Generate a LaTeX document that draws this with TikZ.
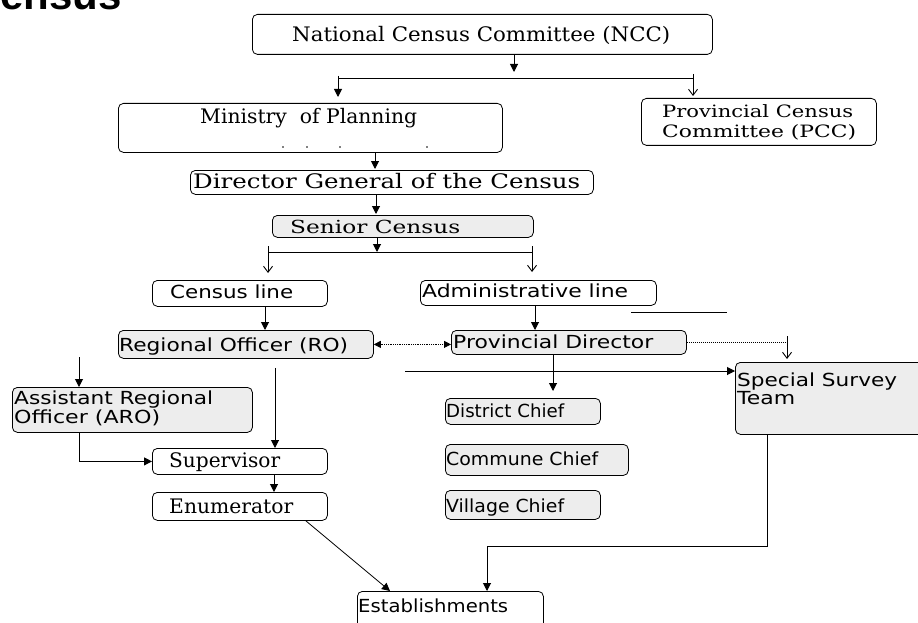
\documentclass[tikz,border=0pt]{standalone}
\usepackage{fontspec}
\usepackage{graphicx}
\setmainfont{DejaVu Serif}
\newfontfamily\sansf{DejaVu Sans}
\newfontfamily\titlef{Liberation Sans}
\usetikzlibrary{arrows.meta,calc}
\tikzset{
  box/.style={draw, rounded corners=5pt, line width=0.8pt, inner sep=0pt, anchor=north west},
  shd/.style={fill=black!7},
  arr/.style={line width=1pt, -{Triangle[length=8pt,width=8pt]}},
  darr/.style={line width=0.8pt, densely dotted, {Triangle[length=7pt,width=7pt]}-{Triangle[length=7pt,width=7pt]}},
  oarr/.style={line width=0.9pt, -{Straight Barb[length=6pt,width=9pt]}},
  ln/.style={line width=1pt},
  txt/.style={anchor=base west, inner sep=0pt},
  serif/.style={font=\fontsize{20}{22}\selectfont},
  sans/.style={font=\sansf\fontsize{18}{20}\selectfont}
}
\newcommand{\fw}[2]{\resizebox{#1pt}{\height}{#2}}
\begin{document}
\begin{tikzpicture}[x=1pt,y=-1pt]
\useasboundingbox (0,0) rectangle (918,623);
\begin{scope}
\clip (0,0) rectangle (918,623);
\node[txt, font=\titlef\bfseries\fontsize{42}{42}\selectfont] (title) at (-30,10) {Census};

% boxes
\node[box, minimum width=460pt, minimum height=40pt] (ncc) at (252,14) {};
\node[box, minimum width=384pt, minimum height=49pt] (min) at (118,103) {};
\node[box, minimum width=235pt, minimum height=47pt] (pcc) at (641,98) {};
\node[box, minimum width=403pt, minimum height=24pt] (dg) at (190,170) {};
\node[box, shd, minimum width=261pt, minimum height=22pt] (sc) at (272,215) {};
\node[box, minimum width=175pt, minimum height=26pt] (cl) at (152,280) {};
\node[box, minimum width=236pt, minimum height=25pt] (al) at (420,280) {};
\node[box, shd, minimum width=255pt, minimum height=28pt] (ro) at (118,330) {};
\node[box, shd, minimum width=235pt, minimum height=24pt] (pd) at (451,330) {};
\node[box, shd, minimum width=200pt, minimum height=72pt] (sst) at (735,362) {};
\node[box, shd, minimum width=240pt, minimum height=45pt] (aro) at (12,387) {};
\node[box, minimum width=175pt, minimum height=26pt] (sup) at (152,448) {};
\node[box, minimum width=175pt, minimum height=28pt] (enu) at (152,492) {};
\node[box, shd, minimum width=155pt, minimum height=26pt] (dc) at (445,398) {};
\node[box, shd, minimum width=183pt, minimum height=31pt] (cc) at (445,444) {};
\node[box, shd, minimum width=155pt, minimum height=29pt] (vc) at (445,490) {};
\node[box, minimum width=186pt, minimum height=45pt] (est) at (357,591) {};

% texts
\node[txt, serif] (tncc) at (292,42) {\fw{378}{National Census Committee (NCC)}};
\node[txt, serif] (tmin) at (200,124) {\fw{217}{Ministry\ \ of Planning}};
\node[txt, font=\fontsize{17}{19}\selectfont] (tpcc1) at (662,118) {\fw{191}{Provincial Census}};
\node[txt, font=\fontsize{17}{19}\selectfont] (tpcc2) at (662,138) {\fw{194}{Committee (PCC)}};
\node[txt, serif] (tdg) at (193,188) {\fw{387}{Director General of the Census}};
\node[txt, font=\fontsize{18}{20}\selectfont] (tsc) at (290,233) {\fw{170}{Senior Census}};
\node[txt, sans] (tcl) at (170,298) {\fw{123}{Census line}};
\node[txt, sans] (tal) at (422,297) {\fw{206}{Administrative line}};
\node[txt, sans] (tro) at (119,351) {\fw{229}{Regional Officer (RO)}};
\node[txt, sans] (tpd) at (453,348) {\fw{200}{Provincial Director}};
\node[txt, sans] (taro1) at (14,404) {\fw{199}{Assistant Regional}};
\node[txt, sans] (taro2) at (14,423) {\fw{146}{Officer (ARO)}};
\node[txt, sans] (tsst1) at (737,386) {\fw{160}{Special Survey}};
\node[txt, sans] (tsst2) at (737,404) {\fw{58}{Team}};
\node[txt, serif] (tsup) at (169,467) {\fw{111}{Supervisor}};
\node[txt, serif] (tenu) at (169,513) {\fw{124}{Enumerator}};
\node[txt, sans] (tdc) at (446,417) {\fw{118}{District Chief}};
\node[txt, sans] (tcc) at (446,465) {\fw{152}{Commune Chief}};
\node[txt, sans] (tvc) at (446,512) {\fw{118}{Village Chief}};
\node[txt, sans] (test) at (358,612) {\fw{150}{Establishments}};

% dots under Ministry
\foreach \dx in {283,307,340,427} \fill (\dx,147) circle (0.9pt);

% coordinates
\coordinate (x514) at (514,0);
\coordinate (j1) at (514,72);
\coordinate (L1a) at (338,79);
\coordinate (L1b) at (693,79);
\coordinate (x375) at (375,0);
\coordinate (x376) at (376,0);
\coordinate (L2a) at (268,252);
\coordinate (L2m) at (377,252);
\coordinate (L2b) at (532,252);
\coordinate (x265) at (265,0);
\coordinate (x535) at (535,0);
\coordinate (f1) at (631,312);
\coordinate (f2) at (727,312);
\coordinate (k0) at (787,345);
\coordinate (k1) at (787,336);
\coordinate (k2) at (787,359);
\coordinate (m1) at (405,371);
\coordinate (x553) at (553,0);
\coordinate (x275) at (275,0);
\coordinate (a0) at (79,357);
\coordinate (x274) at (274,0);
\coordinate (x767) at (767,0);
\coordinate (q) at (487,546);

% connectors
\draw[arr] (x514 |- ncc.south) -- (j1);
\draw[ln] (L1a) -- (L1b);
\draw[arr, shorten >=6pt] ($(L1a)+(0,-3)$) -- (L1a |- min.north);
\draw[oarr, shorten >=2pt] ($(L1b)+(0,-5)$) -- (L1b |- pcc.north);
\draw[arr, shorten >=1pt] (x375 |- min.south) -- (x375 |- dg.north);
\draw[arr, shorten >=1pt] (x376 |- dg.south) -- (x376 |- sc.north);
\draw[arr] (L2m |- sc.south) -- (L2m);
\draw[ln] (L2a) -- (L2b);
\draw[oarr, shorten >=7pt] ($(L2a)+(0,-6)$) -- (L2a |- cl.north);
\draw[oarr, shorten >=8pt] ($(L2b)+(0,-6)$) -- (L2b |- al.north);
\draw[arr] (x265 |- cl.south) -- (x265 |- ro.north);
\draw[arr] (x535 |- al.south) -- (x535 |- pd.north);
\draw[ln] (f1) -- (f2);
\draw[darr] (ro.east) -- (ro.east -| pd.west);
\draw[ln, densely dotted] (pd.east) -- (pd.east -| k0);
\draw[oarr] (k1) -- (k2);
\draw[arr] (m1) -- (m1 -| sst.west);
\draw[arr, shorten >=7pt] (x553 |- pd.south) -- (x553 |- dc.north);
\draw[arr, shorten <=9pt] (x275 |- ro.south) -- (x275 |- sup.north);
\draw[arr] (a0) -- (a0 |- aro.north);
\draw[arr] (a0 |- aro.south) |- (sup.west);
\draw[arr] (x274 |- sup.south) -- (x274 |- enu.north);
\draw[arr, line width=0.8pt] ($(enu.south east)+(-22,0)$) -- ($(est.north west)+(33,0)$);
\draw[arr] (x767 |- sst.south) |- (q) -- (q |- est.north);
\end{scope}
\end{tikzpicture}
\end{document}
